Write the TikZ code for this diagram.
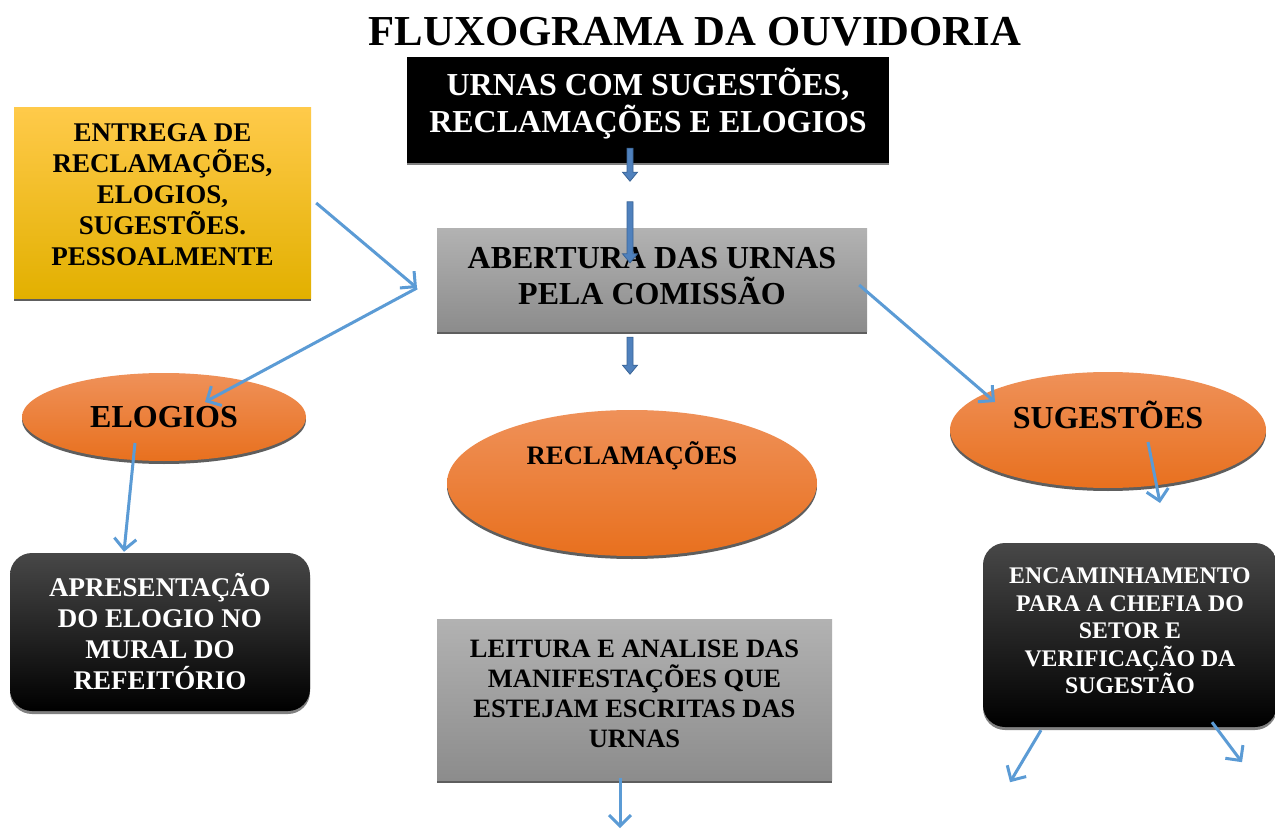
\documentclass[tikz,border=0pt]{standalone}
\usepackage{fontspec}
\setmainfont{Liberation Serif}
\usetikzlibrary{shapes.geometric,arrows.meta,calc}

\definecolor{linhaazul}{HTML}{5B9BD5}
\definecolor{azulbloco}{HTML}{4F81BD}
\definecolor{azulborda}{HTML}{3A6496}
\definecolor{cinzaA}{HTML}{B2B2B2}
\definecolor{cinzaB}{HTML}{8C8C8C}
\definecolor{sombra}{HTML}{5E5E5E}
\definecolor{amareloA}{HTML}{FFCA4A}
\definecolor{amareloB}{HTML}{FFC000}
\definecolor{amareloC}{HTML}{E2B000}
\definecolor{laranjaA}{HTML}{EF9159}
\definecolor{laranjaB}{HTML}{F47E2E}
\definecolor{laranjaC}{HTML}{E8701E}

\newcommand{\tamanho}[2]{\fontsize{#1}{#2}\selectfont\bfseries}
\newcommand{\setabloco}[2]{%
  \filldraw[bloco] ($(#1)+(-3,0)$) -- ($(#2)+(-3,-9)$) -- ($(#2)+(-7.5,-9)$) -- (#2)
    -- ($(#2)+(7.5,-9)$) -- ($(#2)+(3,-9)$) -- ($(#1)+(3,0)$) -- cycle;}

\begin{document}
\begin{tikzpicture}[x=1pt,y=-1pt]
  \tikzset{
    rotulo/.style={align=center, inner sep=0pt},
    caixacinza/.style={rectangle, inner sep=0pt, top color=cinzaA, bottom color=cinzaB,
      preaction={fill=sombra, transform canvas={yshift=-3pt}}},
    caixapreta/.style={rectangle, inner sep=0pt, fill=black,
      preaction={fill=gray, transform canvas={yshift=-2pt}}},
    caixaamarela/.style={rectangle, inner sep=0pt, top color=amareloA, middle color=amareloB,
      bottom color=amareloC, preaction={fill=sombra, transform canvas={yshift=-3pt}}},
    bolha/.style={ellipse, inner sep=0pt, top color=laranjaA, middle color=laranjaB,
      bottom color=laranjaC, preaction={fill=sombra, transform canvas={yshift=-3pt}}},
    cartao/.style={rectangle, rounded corners=22pt, inner sep=0pt, align=center, text=white,
      top color=black!72, middle color=black, bottom color=black,
      preaction={fill=gray, transform canvas={yshift=-3pt}}},
    seta/.style={draw=linhaazul, line width=3pt, -{Straight Barb[length=11pt,width=22pt]}},
    bloco/.style={fill=azulbloco, draw=azulborda, line width=0.8pt}
  }
  \fill[white] (0,0) rectangle (1275,829);
  \useasboundingbox (0,0) rectangle (1275,829);

  % titulo
  \node[rotulo, font=\tamanho{42.7}{46}] (titulo) at (695,32) {FLUXOGRAMA DA OUVIDORIA};

  % caixas
  \node[caixapreta, minimum width=482pt, minimum height=106pt,
    label={[rotulo, text=white, font=\tamanho{32}{37}, yshift=6pt]center:{URNAS COM SUGESTÕES,\\RECLAMAÇÕES E ELOGIOS}}]
    (urnas) at (648,110) {};
  \node[caixaamarela, minimum width=297pt, minimum height=190pt,
    label={[rotulo, font=\tamanho{27}{31}, yshift=8pt]center:{ENTREGA DE\\RECLAMAÇÕES,\\ELOGIOS,\\SUGESTÕES.\\PESSOALMENTE}}]
    (entrega) at (162.5,203) {};
  \node[caixacinza, minimum width=430pt, minimum height=102pt,
    label={[rotulo, font=\tamanho{32}{36}, yshift=4pt]center:{ABERTURA DAS URNAS\\PELA COMISSÃO}}]
    (abertura) at (652,280) {};

  % elipses
  \node[bolha, minimum width=284pt, minimum height=88pt, font=\tamanho{32}{36}]
    (elogios) at (164,417) {ELOGIOS};
  \node[bolha, minimum width=370pt, minimum height=146pt,
    label={[rotulo, font=\tamanho{26.7}{30}, yshift=27pt]center:{RECLAMAÇÕES}}]
    (reclamacoes) at (632,483) {};
  \node[bolha, minimum width=316pt, minimum height=116pt,
    label={[rotulo, font=\tamanho{32}{36}, yshift=15pt]center:{SUGESTÕES}}]
    (sugestoes) at (1108,430) {};

  % cartoes e caixa final
  \node[cartao, minimum width=300pt, minimum height=158pt, font=\tamanho{27}{31}]
    (apresentacao) at (160,632) {APRESENTAÇÃO\\DO ELOGIO NO\\MURAL DO\\REFEITÓRIO};
  \node[cartao, minimum width=294pt, minimum height=184pt,
    label={[rotulo, text=white, font=\tamanho{23.8}{27.5}, yshift=4pt]center:{ENCAMINHAMENTO\\PARA A CHEFIA DO\\SETOR E\\VERIFICAÇÃO DA\\SUGESTÃO}}]
    (encaminhamento) at (1130,635) {};
  \node[caixacinza, minimum width=395pt, minimum height=161pt,
    label={[rotulo, font=\tamanho{26.5}{30}, yshift=6pt]center:{LEITURA E ANALISE DAS\\MANIFESTAÇÕES QUE\\ESTEJAM ESCRITAS DAS\\URNAS}}]
    (leitura) at (634.5,699.5) {};

  % setas em bloco
  \coordinate (b1a) at ($(urnas.south)+(-18,-15)$);
  \coordinate (b1b) at ($(urnas.south)+(-18,18)$);
  \coordinate (b2a) at ($(abertura.north)+(-22,-27)$);
  \coordinate (b2b) at ($(abertura.north)+(-22,34)$);
  \coordinate (b3a) at ($(abertura.south)+(-22,6)$);
  \coordinate (b3b) at ($(abertura.south)+(-22,43)$);
  \setabloco{b1a}{b1b}
  \setabloco{b2a}{b2b}
  \setabloco{b3a}{b3b}

  % setas azuis
  \coordinate (encontro) at (417,288);
  \draw[seta] ($(entrega.east)+(5,0)$) -- (encontro);
  \draw[seta] (encontro) -- ($(elogios.center)+(41,-15)$);
  \draw[seta] ($(abertura.east)+(-8,5)$) -- ($(sugestoes.center)+(-113,-28)$);
  \draw[seta] ($(sugestoes.center)+(40,12)$) -- ($(sugestoes.center)+(52,73)$);
  \draw[seta] ($(elogios.center)+(-29,26)$) -- ($(apresentacao.north)+(-36,-1)$);
  \draw[seta] ($(leitura.south)+(-14.5,-2)$) -- ($(leitura.south)+(-14.5,48)$);
  \draw[seta] ($(encaminhamento.south)+(-89,3)$) -- ($(encaminhamento.south)+(-120,55)$);
  \draw[seta] ($(encaminhamento.south)+(82,-5)$) -- ($(encaminhamento.south)+(112,35)$);
\end{tikzpicture}
\end{document}
